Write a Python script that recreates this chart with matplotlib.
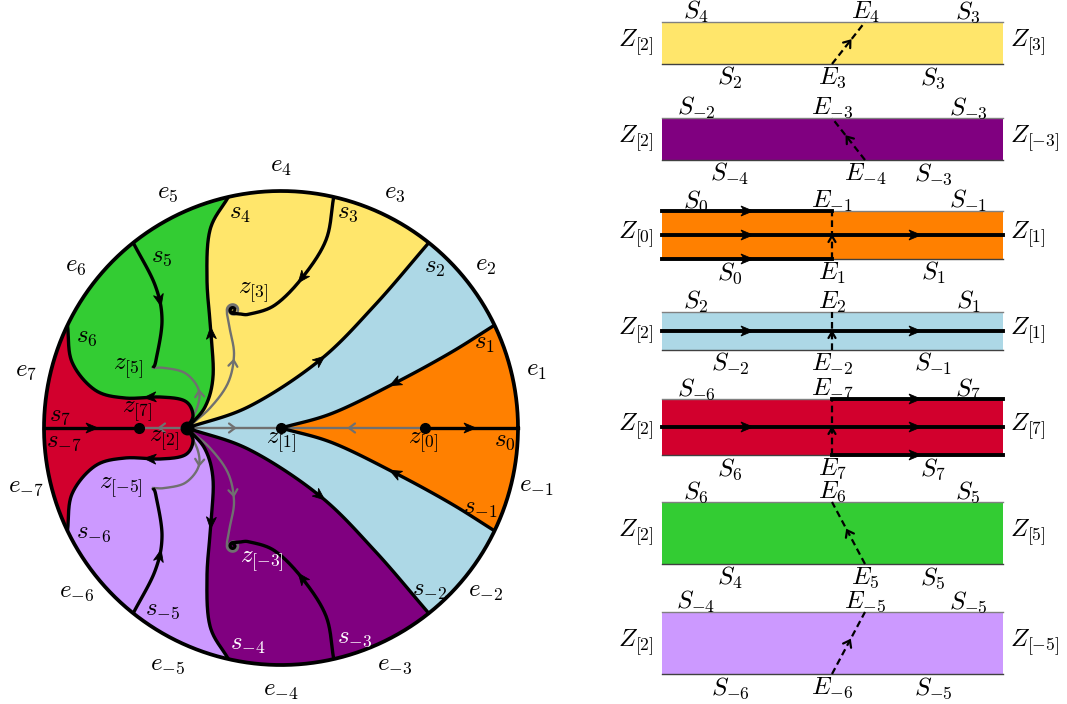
import numpy as np
import matplotlib.pyplot as plt
from matplotlib.patches import Polygon, Rectangle, Circle

plt.rcParams['mathtext.fontset'] = 'cm'
FS = 18

# disk: centre and radius in pixels (y grows downwards)
CX, CY, R = 281, 428, 237
A = 180 / 7

YELLOW = '#FFE66B'
PURPLE = '#800080'
ORANGE = '#FF8000'
BLUE = '#ADD8E6'
RED = '#D2002D'
GREEN = '#33CC33'
LILAC = '#CC99FF'
GREY = '#707070'

# critical points
z0 = (425, 428)
z1 = (281, 428)
z2 = (187, 428)
z7 = (139, 428)
z3 = (233, 310)
z5 = (153, 368)

# curves of the upper half (the lower half is the mirror image)
s1_pts = [z1, (333, 413), (395, 383), (450, 353), (494.5, 325.2)]
s2_pts = [z2, (250, 406), (320, 360), (375, 305), (428.8, 242.7)]
s4_pts = [z2, (205, 407), (213, 377), (211, 333), (207, 280), (210, 230), (228.3, 197)]
s6_pts = [(67.5, 325.2), (72, 362), (95, 390), (125, 398), (160, 397), (185, 401), (193, 415), z2]
s3_pts = [(333.7, 197), (326, 240), (302, 278), (275, 305), (250, 314), (240, 314)]
s5_pts = [(133.2, 242.7), (155, 285), (162, 320), (156, 360), z5]
g3_pts = [z2, (210, 408), (228, 383), (234, 355), (230, 330), (227, 314)]
g5_pts = [z2, (198, 405), (198, 388), (185, 373), (165, 368), z5]

# labels of the disk
e_up = ['1', '2', '3', '4', '5', '6', '7']
s_labels = [('s_0', 505, 440), ('s_1', 485, 343), ('s_2', 435, 267), ('s_3', 348, 212), ('s_4', 240, 213),
            ('s_5', 162, 256), ('s_6', 87, 336), ('s_7', 60, 415), ('s_{-7}', 64, 441), ('s_{-6}', 94, 532),
            ('s_{-5}', 163, 609), ('s_{-4}', 248, 644), ('s_{-3}', 355, 637), ('s_{-2}', 430, 590),
            ('s_{-1}', 480, 508)]
z_labels = [('z_{[0]}', 423, 443), ('z_{[1]}', 281, 443), ('z_{[2]}', 164, 441), ('z_{[7]}', 137, 412),
            ('z_{[5]}', 128, 369), ('z_{[3]}', 253, 293), ('z_{[-5]}', 121, 488), ('z_{[-3]}', 262, 562)]
white_labels = ['s_{-4}', 's_{-3}', 'z_{[-3]}']

# strips on the right
strip_top = [22, 118, 211, 312, 399, 502, 612]
strip_bot = [64, 160, 259, 350, 455, 564, 674]
strip_col = [YELLOW, PURPLE, ORANGE, BLUE, RED, GREEN, LILAC]
strip_left = ['2', '2', '0', '2', '2', '2', '2']
strip_right = ['3', '-3', '1', '1', '7', '5', '-5']
top_lab = [('4', '4', '3'), ('-2', '-3', '-3'), ('0', '-1', '-1'), ('2', '2', '1'),
           ('-6', '-7', '7'), ('6', '6', '5'), ('-4', '-5', '-5')]
bot_lab = [('2', '3', '3'), ('-4', '-4', '-3'), ('0', '1', '1'), ('-2', '-2', '-1'),
           ('6', '7', '7'), ('4', '5', '5'), ('-6', '-6', '-5')]
cut_top = [1, 0, 0, 0, 0, 0, 1]   # 1 -> E label shifted right
cut_bot = [0, 1, 0, 0, 0, 1, 0]


def smooth(pts, n=30):
    P = np.array(pts, float)
    P = np.vstack([2 * P[0] - P[1], P, 2 * P[-1] - P[-2]])
    out = []
    t = np.linspace(0, 1, n, endpoint=False)[:, None]
    for i in range(1, len(P) - 2):
        p0, p1, p2, p3 = P[i - 1], P[i], P[i + 1], P[i + 2]
        out.append(0.5 * (2 * p1 + (-p0 + p2) * t + (2 * p0 - 5 * p1 + 4 * p2 - p3) * t ** 2
                          + (-p0 + 3 * p1 - 3 * p2 + p3) * t ** 3))
    out.append(P[-2][None])
    return np.vstack(out)


def spiral(c, r0, r1, a0, turn, n=80):
    t = np.linspace(0, 1, n)
    a = np.radians(a0 - turn * t)
    r = r0 + (r1 - r0) * t
    return np.column_stack([c[0] + r * np.cos(a), c[1] - r * np.sin(a)])


def arc(a0, a1, n=100):
    t = np.radians(np.linspace(a0, a1, n))
    return np.column_stack([CX + R * np.cos(t), CY - R * np.sin(t)])


def mir(P):
    P = np.asarray(P, float)
    return np.column_stack([P[:, 0], 2 * CY - P[:, 1]])


def head(ax, p, d, color, filled=True, L=12, W=10, z=6):
    d = np.asarray(d, float)
    d = d / np.linalg.norm(d)
    n = np.array([-d[1], d[0]])
    tip = np.asarray(p, float) + 0.5 * L * d
    back = tip - L * d
    if filled:
        poly = [tip, back + W / 2 * n, tip - 0.72 * L * d, back - W / 2 * n]
        ax.add_patch(Polygon(poly, closed=True, fc=color, ec=color, lw=0.6, zorder=z))
    else:
        a, b = back + W / 2 * n, back - W / 2 * n
        ax.plot([a[0], tip[0], b[0]], [a[1], tip[1], b[1]], color=color, lw=1.6,
                solid_capstyle='round', solid_joinstyle='miter', zorder=z)


def arrow_near(ax, C, q, forward=True, **kw):
    i = int(np.argmin(np.hypot(C[:, 0] - q[0], C[:, 1] - q[1])))
    d = C[min(i + 2, len(C) - 1)] - C[max(i - 2, 0)]
    if not forward:
        d = -d
    head(ax, C[i], d, **kw)


fig = plt.figure(figsize=(10.67, 7.04), dpi=100)
ax = fig.add_axes([0, 0, 1, 1])
ax.set_xlim(0, 1067)
ax.set_ylim(704, 0)
ax.axis('off')

S1 = smooth(s1_pts)
S2 = smooth(s2_pts)
S4 = smooth(s4_pts)
S6 = smooth(s6_pts)
S3 = np.vstack([smooth(s3_pts), spiral(z3, 3.6, 0.8, -75, 420)])
S5 = smooth(s5_pts)
G3 = np.vstack([smooth(g3_pts), spiral(z3, 6.3, 3.0, 195, 520)])
G5 = smooth(g5_pts)

# cells
ax.add_patch(Circle((CX, CY), R, fc=BLUE, ec='none', zorder=1))
cells = [
    (np.vstack([S1, arc(A, -A), mir(S1)[::-1]]), ORANGE),
    (np.vstack([S2, arc(2 * A, 4 * A), S4[::-1]]), YELLOW),
    (np.vstack([S4, arc(4 * A, 6 * A), S6]), GREEN),
    (np.vstack([S6[::-1], arc(6 * A, 8 * A), mir(S6)]), RED),
]
for poly, col in cells:
    ax.add_patch(Polygon(poly, closed=True, fc=col, ec='none', zorder=1))
ax.add_patch(Polygon(mir(cells[2][0]), closed=True, fc=LILAC, ec='none', zorder=1))
ax.add_patch(Polygon(mir(cells[1][0]), closed=True, fc=PURPLE, ec='none', zorder=1))

# grey flow lines
grey_lines = [np.array([z2, z1], float), np.array([z2, z7], float), np.array([z0, z1], float),
              G3, mir(G3), G5, mir(G5)]
for C in grey_lines:
    ax.plot(C[:, 0], C[:, 1], color=GREY, lw=1.7, zorder=3)

# black separatrices
black = [S1, mir(S1), S2, mir(S2), S4, mir(S4), S6, mir(S6), S3, mir(S3), S5, mir(S5)]
for C in black:
    ax.plot(C[:, 0], C[:, 1], color='black', lw=2.4, zorder=4, solid_capstyle='butt')
ax.plot([z0[0], CX + R], [CY, CY], color='black', lw=2.4, zorder=4)
ax.plot([CX - R, z7[0]], [CY, CY], color='black', lw=2.4, zorder=4)
circ = arc(0, 360, 400)
ax.plot(circ[:, 0], circ[:, 1], color='black', lw=2.7, zorder=5)

# arrows on the black curves
for C, q, fw in [(S1, (395, 383), False), (S2, (320, 360), True), (S4, (211, 333), True),
                 (S3, (302, 278), True), (S5, (160, 300), True), (S6, (150, 398), False)]:
    arrow_near(ax, C, q, fw, color='black')
    arrow_near(ax, mir(C), (q[0], 2 * CY - q[1]), fw, color='black')
head(ax, (470, CY), (1, 0), 'black')
head(ax, (92, CY), (1, 0), 'black')

# arrows on the grey curves
head(ax, (232, CY), (1, 0), GREY, filled=False, L=6, W=9)
head(ax, (162, CY), (-1, 0), GREY, filled=False, L=6, W=9)
head(ax, (352, CY), (-1, 0), GREY, filled=False, L=6, W=9)
for C, q in [(G3, (234, 363)), (G5, (199, 394))]:
    arrow_near(ax, C, q, True, color=GREY, filled=False, L=6, W=9)
    arrow_near(ax, mir(C), (q[0], 2 * CY - q[1]), True, color=GREY, filled=False, L=6, W=9)

# dots
for p, s in [(z0, 7), (z1, 7), (z2, 9), (z7, 7)]:
    ax.plot(*p, 'o', color='black', ms=s, zorder=7)

# e labels round the circle
for k in e_up:
    ang = np.radians((int(k) - 0.5) * A)
    ax.text(CX + 262 * np.cos(ang), CY - 262 * np.sin(ang), r'$e_{%s}$' % k,
            fontsize=FS, ha='center', va='center', zorder=8)
    ax.text(CX + 262 * np.cos(ang), CY + 262 * np.sin(ang), r'$e_{-%s}$' % k,
            fontsize=FS, ha='center', va='center', zorder=8)
for t, x, y in s_labels + z_labels:
    col = 'white' if t in white_labels else 'black'
    ax.text(x, y, '$' + t + '$', fontsize=FS, ha='center', va='center', color=col, zorder=8)

# strips
X0, X1, XC, XR = 662, 1003, 832, 865
for i in range(7):
    top, bot = strip_top[i], strip_bot[i]
    mid = (top + bot) / 2
    ax.add_patch(Rectangle((X0, top), X1 - X0, bot - top, fc=strip_col[i], ec='none', zorder=1))
    ax.plot([X0, X1], [top, top], color='#808080', lw=1.0, zorder=2)
    ax.plot([X0, X1], [bot, bot], color='#404040', lw=1.0, zorder=2)

    ax.text(654, mid, r'$Z_{[%s]}$' % strip_left[i], fontsize=FS, ha='right', va='center')
    ax.text(1010, mid, r'$Z_{[%s]}$' % strip_right[i], fontsize=FS, ha='left', va='center')

    xt = XR if cut_top[i] else XC
    xb = XR if cut_bot[i] else XC
    a, b, c = top_lab[i]
    ax.text(696, top - 10, r'$S_{%s}$' % a, fontsize=FS, ha='center', va='center')
    ax.text(xt, top - 10, r'$E_{%s}$' % b, fontsize=FS, ha='center', va='center')
    ax.text(968, top - 10, r'$S_{%s}$' % c, fontsize=FS, ha='center', va='center')
    a, b, c = bot_lab[i]
    ax.text(730, bot + 14, r'$S_{%s}$' % a, fontsize=FS, ha='center', va='center')
    ax.text(xb, bot + 14, r'$E_{%s}$' % b, fontsize=FS, ha='center', va='center')
    ax.text(933, bot + 14, r'$S_{%s}$' % c, fontsize=FS, ha='center', va='center')

    ax.plot([xb, xt], [bot, top], color='black', lw=1.6, dashes=(3, 1.8), zorder=3)
    if xb == xt:
        head(ax, (XC, mid + 4), (0, -1), 'black', filled=False, L=6, W=7, z=3)
    else:
        head(ax, ((xb + xt) / 2, mid), (xt - xb, top - bot), 'black', filled=False, L=6, W=9, z=3)

    if i in (2, 3, 4):
        ax.plot([X0, X1], [mid, mid], color='black', lw=2.8, zorder=4)
        head(ax, (747, mid), (1, 0), 'black')
        head(ax, (915, mid), (1, 0), 'black')
    if i == 2:
        for y in (top, bot):
            ax.plot([X0, XC], [y, y], color='black', lw=2.8, zorder=4)
            head(ax, (747, y), (1, 0), 'black')
    if i == 4:
        for y in (top, bot):
            ax.plot([XC, X1], [y, y], color='black', lw=2.8, zorder=4)
            head(ax, (915, y), (1, 0), 'black')

fig.savefig('out.png', dpi=100)
